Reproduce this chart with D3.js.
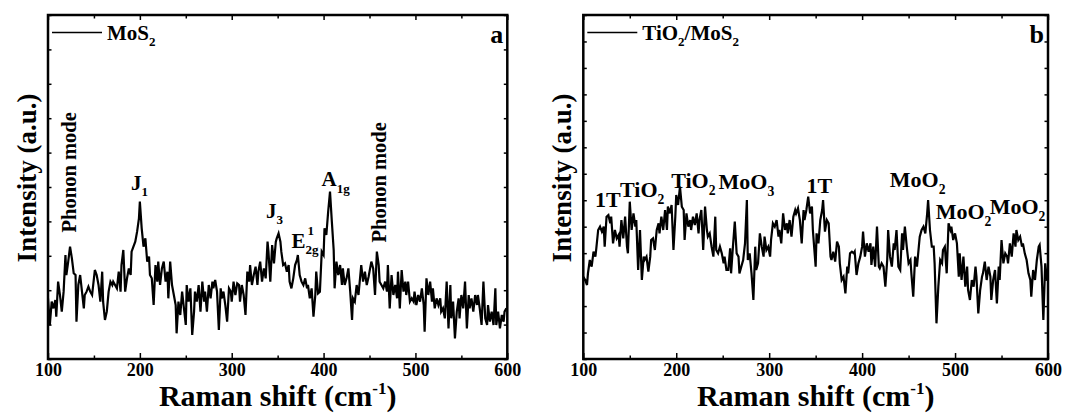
<!DOCTYPE html>
<html><head><meta charset="utf-8">
<script src="https://cdn.jsdelivr.net/npm/d3@7"></script>
<style>
body{margin:0;background:#fff}
text{font-family:"Liberation Serif","Times New Roman",serif;font-weight:bold;fill:#000}
</style>
</head><body>
<svg id="c" width="1067" height="414"></svg>
<script>
// ---------- DATA ----------
const shiftA = [100,102,104,106,108,109,111,113,115,117,119,120,122,124,126,128,130,131,133,135,137,139,140,142,144,146,148,150,151,153,155,157,159,160,162,164,166,168,170,171,173,175,177,179,180,182,184,186,188,190,191,193,195,197,199,200,202,204,206,208,210,211,213,215,217,219,220,222,224,226,228,230,231,233,235,237,239,240,242,244,246,248,250,251,253,255,257,259,260,262,264,266,268,270,271,273,275,277,279,280,282,284,286,288,289,291,293,295,297,299,300,302,304,306,308,309,311,313,315,317,319,320,322,324,326,328,329,331,333,335,337,339,340,342,344,346,348,349,351,
353,354,356,358,360,362,363,365,367,369,371,372,374,376,378,380,382,383,385,387,389,391,392,394,396,398,400,401,403,405,407,409,411,412,414,416,418,420,421,423,425,427,429,431,432,434,436,438,440,441,443,445,447,449,450,452,454,456,458,460,461,463,465,467,469,470,472,474,476,478,480,481,483,485,487,489,490,492,494,496,498,499,501,503,505,507,509,510,512,514,516,518,519,521,523,525,527,528,530,532,534,536,538,539,541,543,545,547,548,550,552,554,556,558,559,561,563,565,567,568,570,572,574,576,578,579,581,583,585,587,588,590,592,594,596,597,599];
const intensityA = [182,102,172,152,177,127,232,192,142,202,312,252,292,337,302,257,252,112,222,252,202,152,192,202,217,202,192,242,267,252,222,172,262,172,117,142,202,232,222,232,222,212,262,202,282,327,202,242,272,252,322,337,352,382,422,472,392,337,362,292,307,252,242,162,282,232,292,222,272,292,232,262,182,292,222,192,162,77,172,132,202,152,102,222,172,212,72,142,202,172,222,142,232,172,202,142,222,182,232,212,237,202,87,212,182,202,162,112,212,202,172,232,192,227,222,172,222,192,132,262,232,282,222,252,277,222,262,292,232,272,242,352,322,232,342,287,352,362,377,
352,322,282,287,262,282,232,212,242,282,297,312,252,232,222,242,212,222,182,212,127,192,262,197,202,322,312,392,372,442,502,412,327,212,292,252,282,222,272,222,242,272,202,117,182,172,222,192,252,282,232,262,222,247,262,292,272,192,322,282,232,222,212,232,202,282,152,252,192,222,182,262,152,267,202,232,192,232,172,182,172,202,162,192,172,212,162,82,242,192,232,172,212,152,182,162,182,142,152,122,232,92,222,122,172,62,142,182,122,192,152,232,92,192,152,182,142,192,162,192,152,102,232,122,102,162,112,142,102,212,102,142,92,132,112,142,152];

const shiftB = [100,102,104,105,107,109,111,113,114,116,118,120,122,123,125,127,129,130,132,134,136,138,139,141,143,145,147,148,150,152,154,156,157,159,161,163,165,166,168,170,172,173,175,177,179,181,182,184,186,188,190,191,193,195,197,199,200,202,204,206,208,209,211,213,215,216,218,220,222,224,225,227,229,231,233,234,236,238,240,242,243,245,247,249,251,252,254,256,258,259,261,263,265,267,268,270,272,274,276,277,279,281,283,285,286,288,290,292,294,295,297,299,301,302,304,306,308,310,311,313,315,317,319,320,322,324,326,328,329,331,333,335,337,338,340,342,344,346,347,
350,351,353,355,357,358,360,362,364,366,367,369,371,373,375,376,378,380,382,384,385,387,389,391,392,394,396,398,400,401,403,405,407,409,410,412,414,416,418,419,421,423,425,427,428,430,432,434,435,437,439,441,443,444,446,448,450,452,453,455,457,459,461,462,464,466,468,470,471,473,475,477,478,480,482,484,486,487,489,491,493,495,496,498,500,502,504,505,507,509,511,513,514,516,518,520,522,523,525,527,529,530,532,534,536,538,539,541,543,545,547,548,550,552,554,556,557,559,561,563,565,566,568,570,572,573,575,577,579,581,582,584,586,588,590,591,593,595,597,599];
const intensityB = [247,237,222,257,297,277,322,307,332,387,397,382,397,337,427,432,407,427,347,387,362,372,337,417,362,427,337,317,472,387,437,397,417,267,387,237,307,297,307,262,307,357,362,327,387,407,377,427,387,447,387,457,437,462,327,427,492,462,517,457,447,357,437,397,417,387,427,402,437,377,417,447,327,457,387,367,377,337,307,427,327,317,337,317,287,307,267,267,332,257,337,412,317,307,257,277,297,347,477,297,317,257,177,337,267,287,377,337,307,367,327,337,307,357,407,397,417,367,387,347,437,387,407,377,417,367,427,447,437,452,417,347,447,417,447,487,437,457,387,
277,377,347,417,447,477,382,417,407,307,297,322,292,352,337,287,237,247,197,277,257,317,322,317,322,252,287,307,337,382,307,347,322,347,282,337,277,397,277,272,287,277,217,297,387,307,277,347,327,387,277,267,377,327,397,337,287,297,257,187,307,277,337,367,387,397,377,437,477,387,337,337,287,107,217,297,287,327,337,257,407,387,397,357,377,347,247,317,237,307,217,277,207,177,237,217,277,247,137,207,247,257,292,237,277,247,177,237,267,167,277,237,357,287,317,307,287,347,307,377,337,387,357,367,337,347,317,297,257,237,187,267,237,297,337,342,277,117,287,237];

const xTickValues = [100, 200, 300, 400, 500, 600];
const xMinorValues = [150, 250, 350, 450, 550];
const xDomain = [100, 600];
const yDomain = [0, 1032];          // arbitrary units
const yTickCountA = 10, yTickCountB = 13;

const xTitle = ["Raman shift (cm", "-1", ")"];
const yTitle = "Intensity (a.u.)";
const legendA = [["MoS",""],["2","sub"]];
const legendB = [["TiO",""],["2","sub"],["/MoS",""],["2","sub"]];
const letterA = "a", letterB = "b";

// peak labels: text parts + anchor in data units (shift, intensity)
const peaksA = [
  {parts:[["Phonon mode",""]], shift:130.5, inten:560, rot:true},
  {parts:[["J",""],["1","sub"]], shift:190.4, inten:507},
  {parts:[["J",""],["3","sub"]], shift:337.3, inten:423},
  {parts:[["E",""],["2g","sub"],["1","sup"]], shift:365.1, inten:333},
  {parts:[["A",""],["1g","sub"]], shift:397.8, inten:518},
  {parts:[["Phonon mode",""]], shift:468, inten:530, rot:true}
];
const peaksB = [
  {parts:[["1T",""]], shift:112.6, inten:456},
  {parts:[["TiO",""],["2","sub"]], shift:139.5, inten:486},
  {parts:[["TiO",""],["2","sub"]], shift:194.5, inten:513},
  {parts:[["MoO",""],["3","sub"]], shift:245.5, inten:510},
  {parts:[["1T",""]], shift:340.2, inten:498},
  {parts:[["MoO",""],["2","sub"]], shift:429.8, inten:516},
  {parts:[["MoO",""],["2","sub"]], shift:479.2, inten:420},
  {parts:[["MoO",""],["2","sub"]], shift:537.3, inten:435}
];

// ---------- DRAW ----------
const svg = d3.select("#c");
const TOP = 15, BOTTOM = 359;

function richText(g, parts, x, y, size, opts = {}) {
  const t = g.append("text").attr("x", x).attr("y", y).style("font-size", size + "px");
  if (opts.anchor) t.attr("text-anchor", opts.anchor);
  if (opts.rot) t.attr("transform", `rotate(-90,${x},${y})`);
  let cur = 0, prevKind = "", prevW = 0;
  parts.forEach(([txt, kind]) => {
    const target = kind === "sub" ? size * 0.3 : kind === "sup" ? -size * 0.6 : 0;
    const fs = kind ? size * 0.62 : size;
    const ts = t.append("tspan").text(txt).attr("dy", target - cur).style("font-size", fs + "px");
    if (kind === "sup" && prevKind === "sub") ts.attr("dx", -prevW + 2);
    cur = target; prevKind = kind;
    prevW = ts.node().getComputedTextLength();
  });
  return t;
}

const panels = [
  {x0:48, x1:507.3, shift:shiftA, inten:intensityA, nY:yTickCountA, legend:legendA, letter:letterA, peaks:peaksA, peakSize:21},
  {x0:583.3, x1:1048, shift:shiftB, inten:intensityB, nY:yTickCountB, legend:legendB, letter:letterB, peaks:peaksB, peakSize:22}
];

panels.forEach((p, i) => {
  const x = d3.scaleLinear().domain(xDomain).range([p.x0, p.x1]);
  const y = d3.scaleLinear().domain(yDomain).range([BOTTOM, TOP]);
  const g = svg.append("g");

  g.append("clipPath").attr("id", "clip" + i).append("rect")
    .attr("x", p.x0).attr("y", TOP).attr("width", p.x1 - p.x0).attr("height", BOTTOM - TOP);

  const pts = p.shift.map((s, k) => [s, p.inten[k]]);
  g.append("path").datum(pts)
    .attr("clip-path", `url(#clip${i})`)
    .attr("fill", "none").attr("stroke", "#000").attr("stroke-width", 2.2)
    .attr("d", d3.line().x(d => x(d[0])).y(d => y(d[1])));

  const yTicks = d3.range(p.nY + 1).map(k => yDomain[0] + k * (yDomain[1] - yDomain[0]) / p.nY);
  const styleAxis = a => { a.select(".domain").remove(); a.selectAll("line").attr("stroke", "#000").attr("stroke-width", 1.5); };

  g.append("g").attr("transform", `translate(0,${BOTTOM})`)
    .call(d3.axisBottom(x).tickValues(xTickValues).tickSize(-6).tickPadding(4).tickFormat(d3.format("d")))
    .call(styleAxis)
    .call(a => a.selectAll("text").style("font-size", "18px").style("font-family", '"Liberation Serif","Times New Roman",serif').style("font-weight", "bold").attr("fill", "#000"));
  g.append("g").attr("transform", `translate(0,${BOTTOM})`)
    .call(d3.axisBottom(x).tickValues(xMinorValues).tickSize(-3.5).tickFormat("")).call(styleAxis);
  g.append("g").attr("transform", `translate(0,${TOP})`)
    .call(d3.axisTop(x).tickValues(xTickValues).tickSize(-5).tickFormat("")).call(styleAxis);
  g.append("g").attr("transform", `translate(0,${TOP})`)
    .call(d3.axisTop(x).tickValues(xMinorValues).tickSize(-3.5).tickFormat("")).call(styleAxis);
  g.append("g").attr("transform", `translate(${p.x0},0)`)
    .call(d3.axisLeft(y).tickValues(yTicks).tickSize(-3.5).tickFormat("")).call(styleAxis);
  g.append("g").attr("transform", `translate(${p.x1},0)`)
    .call(d3.axisRight(y).tickValues(yTicks).tickSize(-3.5).tickFormat("")).call(styleAxis);

  g.append("rect").attr("x", p.x0).attr("y", TOP).attr("width", p.x1 - p.x0).attr("height", BOTTOM - TOP)
    .attr("fill", "none").attr("stroke", "#000").attr("stroke-width", 2.5);

  // legend
  g.append("line").attr("x1", p.x0 + 4).attr("x2", p.x0 + 54).attr("y1", 32.5).attr("y2", 32.5)
    .attr("stroke", "#000").attr("stroke-width", 1.6);
  richText(g, p.legend, p.x0 + 59, 40, 21);

  // panel letter
  g.append("text").attr("x", p.x1 - 4).attr("y", 43).attr("text-anchor", "end")
    .style("font-size", "26px").text(p.letter);

  // peak labels
  p.peaks.forEach(pk => {
    if (pk.rot) richText(g, pk.parts, x(pk.shift), y(pk.inten), 20.5, {rot:true, anchor:"middle"});
    else richText(g, pk.parts, x(pk.shift), y(pk.inten), p.peakSize);
  });

  // axis titles
  const cx = (p.x0 + p.x1) / 2;
  const xt = g.append("text").attr("x", cx).attr("y", 406).attr("text-anchor", "middle").style("font-size", "30px");
  xt.append("tspan").text(xTitle[0]);
  xt.append("tspan").text(xTitle[1]).attr("dy", -12).style("font-size", "17px");
  xt.append("tspan").text(xTitle[2]).attr("dy", 12);

  g.append("text").attr("transform", `translate(${p.x0 - 12},178) rotate(-90)`)
    .attr("text-anchor", "middle").style("font-size", "27px").text(yTitle);
});
</script>
</body></html>
